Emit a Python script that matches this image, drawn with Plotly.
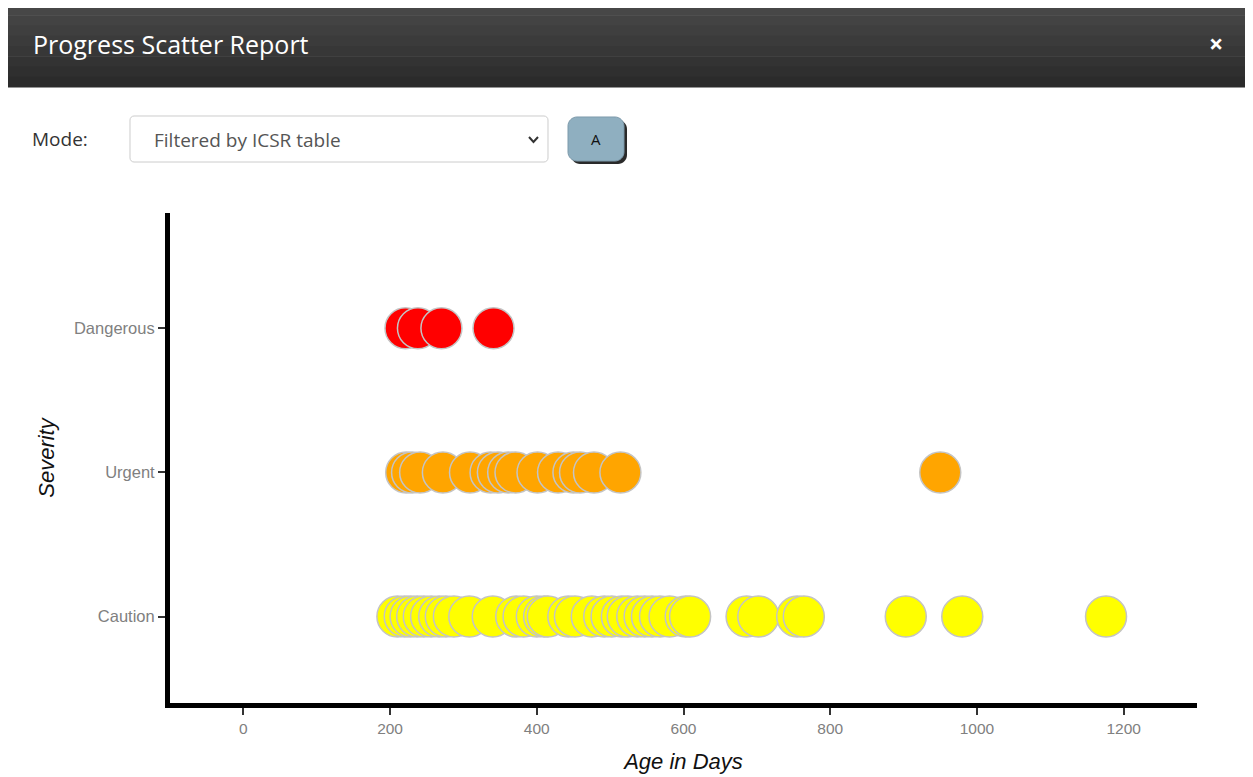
import plotly.graph_objects as go

# ---- data ----
categories = ["Caution", "Urgent", "Dangerous"]
dangerous_days = [221, 238, 270, 341]
urgent_days = [222, 230, 241, 272, 309, 337, 347, 361, 371, 401, 429, 450, 459, 478, 514, 950]
caution_days = [210, 220, 228, 237, 246, 256, 267, 276, 287, 308, 340, 372, 382, 400, 410,
                415, 443, 452, 475, 492, 502, 516, 524, 537, 547, 557, 568, 581, 603, 609,
                686, 702, 755, 764, 903, 980, 1176]
x_ticks = [0, 200, 400, 600, 800, 1000, 1200]

OFF = 8  # page body margin
W, H = 1253 - OFF, 777 - OFF
# plot area in screen pixels: x 170..1197, y 213..703
L, R, T, B = 170 - OFF, 1253 - 1197, 213 - OFF, 777 - 703
PW, PH = W - L - R, H - T - B


def px(x):
    return (x - OFF - L) / PW


def py(y):
    return (H - B - (y - OFF)) / PH


def rrect(x0, y0, x1, y1, r):
    # rounded rectangle path in screen pixels -> paper coords
    k = 0.45
    pts = [
        ("M", x0 + r, y0), ("L", x1 - r, y0),
        ("C", (x1 - r * k, y0), (x1, y0 + r * k), (x1, y0 + r)),
        ("L", x1, y1 - r),
        ("C", (x1, y1 - r * k), (x1 - r * k, y1), (x1 - r, y1)),
        ("L", x0 + r, y1),
        ("C", (x0 + r * k, y1), (x0, y1 - r * k), (x0, y1 - r)),
        ("L", x0, y0 + r),
        ("C", (x0, y0 + r * k), (x0 + r * k, y0), (x0 + r, y0)),
    ]
    s = []
    for p in pts:
        if p[0] in ("M", "L"):
            s.append(f"{p[0]} {px(p[1]):.5f},{py(p[2]):.5f}")
        else:
            s.append("C " + " ".join(f"{px(a):.5f},{py(b):.5f}" for a, b in p[1:]))
    return " ".join(s) + " Z"


fig = go.Figure()
series = [
    ("Caution", caution_days, "#ffff00"),
    ("Urgent", urgent_days, "#ffa500"),
    ("Dangerous", dangerous_days, "#ff0000"),
]
for name, days, color in series:
    fig.add_trace(go.Scatter(
        x=days, y=[name] * len(days), mode="markers", name=name,
        marker=dict(size=41, color=color, line=dict(color="#c4c4c4", width=1.5)),
        hoverinfo="skip", showlegend=False,
    ))

shapes = []
annotations = []
# header bar (vertical gradient approximated)
grad = ["#474747", "#434343", "#3f3f3f", "#3b3b3b", "#373737", "#333333", "#2f2f2f", "#2b2b2b"]
y_top, y_bot = 5, 87
step = (y_bot - y_top) / len(grad)
for i, c in enumerate(grad):
    shapes.append(dict(type="rect", xref="paper", yref="paper", x0=px(7), x1=px(1253),
                       y0=py(y_top + (i + 1) * step + 0.5), y1=py(y_top + i * step),
                       fillcolor=c, line=dict(width=0), layer="below"))
annotations.append(dict(text="Progress Scatter Report", xref="paper", yref="paper", x=px(31), y=py(44),
                        xanchor="left", yanchor="middle", showarrow=False,
                        font=dict(family="Open Sans", size=25, color="#ffffff")))
annotations.append(dict(text="<b>×</b>", xref="paper", yref="paper", x=px(1216), y=py(43),
                        xanchor="center", yanchor="middle", showarrow=False,
                        font=dict(family="Open Sans", size=25, color="#ffffff")))
# mode row
annotations.append(dict(text="Mode:", xref="paper", yref="paper", x=px(30), y=py(139),
                        xanchor="left", yanchor="middle", showarrow=False,
                        font=dict(family="Open Sans", size=19, color="#333333")))
shapes.append(dict(type="path", xref="paper", yref="paper", path=rrect(130, 116, 548, 162, 4),
                   fillcolor="#ffffff", line=dict(color="#cccccc", width=1), layer="below"))
annotations.append(dict(text="Filtered by ICSR table", xref="paper", yref="paper", x=px(152), y=py(140),
                        xanchor="left", yanchor="middle", showarrow=False,
                        font=dict(family="Open Sans", size=19, color="#555555")))
shapes.append(dict(type="path", xref="paper", yref="paper",
                   path=f"M {px(529)},{py(137)} L {px(533.5)},{py(142)} L {px(538)},{py(137)}",
                   line=dict(color="#333333", width=2)))
# button with shadow
shapes.append(dict(type="path", xref="paper", yref="paper", path=rrect(571, 120, 627, 164, 9),
                   fillcolor="#2a2a2a", line=dict(width=0), layer="below"))
shapes.append(dict(type="path", xref="paper", yref="paper", path=rrect(568, 117, 624, 161, 9),
                   fillcolor="#8fafc0", line=dict(color="#7d9aab", width=1), layer="below"))
annotations.append(dict(text="A", xref="paper", yref="paper", x=px(596), y=py(139),
                        xanchor="center", yanchor="middle", showarrow=False,
                        font=dict(family="Open Sans", size=15, color="#111111")))

fig.update_layout(
    width=W, height=H,
    margin=dict(l=L, r=R, t=T, b=B),
    paper_bgcolor="#ffffff", plot_bgcolor="#ffffff",
    shapes=shapes, annotations=annotations,
    xaxis=dict(
        range=[-100, 1300], tickvals=x_ticks, showgrid=False, zeroline=False,
        automargin=False,
        showline=True, linecolor="#000000", linewidth=5,
        ticks="outside", ticklen=7, tickwidth=2, tickcolor="#333333",
        tickfont=dict(family="Liberation Sans Narrow, Arial", size=15.5, color="#808080"),
        title=dict(text="<i>Age in Days</i>", standoff=20,
                   font=dict(family="Liberation Sans, Arial", size=22, color="#111111")),
    ),
    yaxis=dict(
        type="category", categoryorder="array", categoryarray=categories,
        range=[-0.6, 2.8], showgrid=False, zeroline=False,
        automargin=False,
        showline=True, linecolor="#000000", linewidth=5,
        ticks="outside", ticklen=7, tickwidth=2, tickcolor="#333333",
        tickfont=dict(family="Liberation Sans, Arial", size=16.5, color="#808080"),
        title=dict(text="<i>Severity</i>", standoff=15,
                   font=dict(family="Liberation Sans, Arial", size=22, color="#111111")),
    ),
)

fig.write_html("out.html")
